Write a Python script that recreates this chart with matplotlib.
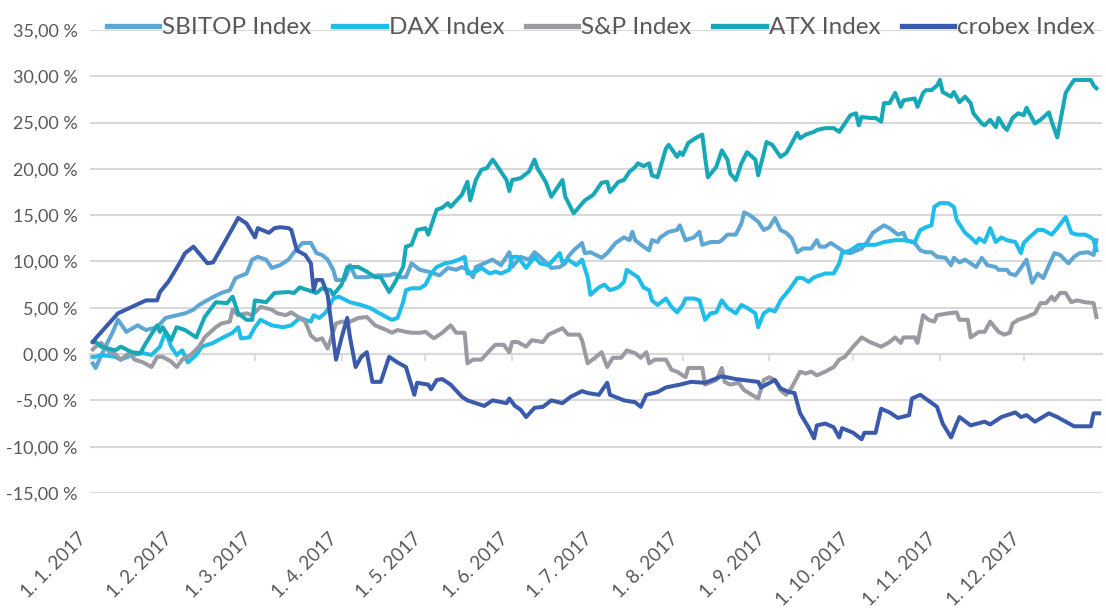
import matplotlib
matplotlib.use('Agg')
import matplotlib.pyplot as plt
from matplotlib.ticker import FuncFormatter
from matplotlib.transforms import ScaledTranslation
import pandas as pd

# (day of year, % change)
sbitop = [(1, -1.0), (2, -1.5), (5, 0.5), (8, 2.3), (10, 3.7), (13, 2.4), (17, 3.1), (20, 2.6), (24, 2.9),
          (27, 3.9), (34, 4.4), (37, 4.8), (39, 5.3), (43, 6.0), (47, 6.6), (50, 6.9), (52, 8.2), (56, 8.7),
          (58, 10.2), (60, 10.5), (63, 10.2), (65, 9.3), (68, 9.6), (71, 10.2), (73, 11.0), (76, 12.0),
          (79, 12.0), (81, 10.9), (83, 10.7), (85, 10.2), (87, 9.1), (88, 8.0), (91, 8.0), (92, 8.7), (93, 9.6),
          (95, 8.3), (99, 8.3), (103, 8.5), (107, 8.5), (109, 8.7), (111, 8.3), (113, 8.3), (115, 9.8), (118, 9.1),
          (121, 8.9), (125, 8.5), (128, 9.3), (131, 9.1), (133, 9.4), (135, 9.1), (137, 8.3), (138, 9.4),
          (141, 9.8), (144, 10.2), (147, 9.6), (150, 11.0), (151, 9.4), (154, 10.5), (157, 10.2), (159, 11.0),
          (161, 10.5), (165, 9.3), (168, 9.4), (170, 9.8), (171, 10.5), (173, 11.2), (176, 12.0), (177, 10.9),
          (179, 11.0), (183, 10.4), (185, 10.9), (188, 12.0), (191, 12.6), (193, 12.3), (194, 13.2), (195, 12.3),
          (198, 11.6), (200, 11.2), (201, 12.3), (203, 12.1), (204, 12.6), (207, 13.2), (210, 13.4), (211, 13.9),
          (213, 12.3), (216, 12.6), (218, 13.2), (219, 11.8), (222, 12.1), (225, 12.1), (226, 12.3), (228, 12.9),
          (231, 12.9), (233, 14.1), (234, 15.3), (236, 15.0), (239, 14.3), (241, 13.4), (243, 13.7), (245, 14.7),
          (247, 13.4), (249, 13.1), (251, 12.5), (253, 11.0), (255, 11.4), (258, 11.4), (260, 12.3), (261, 11.6),
          (263, 11.6), (265, 12.0), (267, 11.6), (270, 11.0), (272, 10.9), (276, 11.4), (278, 12.1), (280, 13.1),
          (283, 13.7), (284, 13.9), (286, 13.6), (289, 12.9), (291, 13.1), (292, 12.3), (295, 12.0), (297, 11.2),
          (299, 11.0), (301, 11.0), (303, 10.5), (306, 10.4), (308, 9.6), (309, 10.4), (311, 9.9), (313, 10.2),
          (315, 9.8), (317, 9.4), (319, 10.4), (321, 9.6), (324, 9.4), (325, 9.1), (328, 9.1), (329, 8.7),
          (331, 8.5), (333, 9.3), (335, 10.2), (337, 7.7), (339, 8.7), (341, 8.2), (343, 9.6), (345, 10.9),
          (347, 10.7), (350, 9.8), (352, 10.5), (354, 10.9), (357, 11.0), (359, 10.7), (360, 12.3)]

dax = [(1, -0.3), (2, -0.3), (4, -0.1), (9, -0.3), (11, -0.6), (15, -0.1), (19, 0.1), (22, -0.1), (25, 0.8),
       (27, 2.4), (29, 0.8), (31, -0.1), (33, 0.4), (35, -0.9), (38, -0.1), (40, 0.8), (44, 1.2), (47, 1.7),
       (51, 2.3), (53, 2.9), (54, 1.7), (57, 1.8), (59, 2.9), (61, 3.7), (65, 3.1), (69, 2.9), (72, 3.1),
       (75, 3.9), (79, 3.5), (80, 4.2), (82, 3.9), (84, 4.4), (85, 4.8), (87, 6.0), (89, 6.2), (93, 5.6),
       (97, 5.3), (100, 5.0), (103, 4.5), (106, 4.0), (108, 3.7), (110, 3.9), (112, 5.6), (113, 6.9),
       (115, 7.1), (118, 7.1), (120, 7.5), (122, 8.7), (124, 9.4), (127, 9.8), (129, 9.9), (132, 10.2), (134, 10.5),
       (135, 8.7), (138, 8.9), (140, 9.3), (143, 8.7), (145, 8.9), (147, 8.7), (150, 9.1), (151, 10.5),
       (153, 10.5), (156, 9.3), (159, 10.5), (161, 9.8), (164, 9.6), (168, 10.9), (169, 9.9), (171, 10.2),
       (174, 9.6), (176, 10.2), (178, 8.3), (179, 6.4), (182, 7.2), (184, 7.5), (186, 6.9), (189, 7.2),
       (191, 7.8), (192, 9.1), (194, 8.7), (196, 8.3), (198, 7.2), (200, 6.9), (201, 5.8), (203, 5.3),
       (206, 6.0), (208, 5.1), (210, 4.5), (212, 5.3), (213, 6.0), (216, 6.0), (218, 5.8), (220, 3.7),
       (222, 4.4), (224, 4.5), (226, 5.8), (228, 5.0), (231, 4.4), (233, 5.3), (235, 5.0), (238, 4.4),
       (239, 2.9), (241, 4.4), (243, 4.8), (245, 4.6), (247, 5.8), (250, 6.9), (253, 8.2), (255, 8.2),
       (257, 7.8), (259, 8.3), (261, 8.5), (263, 8.7), (266, 8.7), (268, 9.8), (269, 10.9), (272, 11.2),
       (275, 11.8), (281, 11.8), (284, 12.1), (288, 12.3), (291, 12.3), (295, 12.1), (297, 13.4), (299, 13.7),
       (301, 13.9), (302, 15.9), (304, 16.3), (307, 16.3), (309, 15.9), (310, 14.5), (313, 13.1), (315, 12.6),
       (317, 12.0), (318, 12.5), (320, 12.1), (322, 13.6), (324, 12.1), (326, 12.6), (328, 12.3), (331, 12.1),
       (333, 10.9), (334, 12.0), (336, 12.6), (339, 13.4), (341, 13.4), (344, 12.9), (346, 13.6), (349, 14.8),
       (351, 13.1), (353, 12.9), (356, 12.9), (358, 12.6), (359, 12.3), (360, 11.2)]

sp_days = [1, 2, 4, 7, 9, 11, 14, 16, 19, 22, 24, 26, 29, 31, 33, 36, 39, 41, 45, 47,
           50, 51, 53, 56, 58, 61, 65, 67, 70, 72, 75, 77, 79, 81, 83, 85, 88, 90, 93, 96,
           99, 100, 102, 106, 108, 110, 113, 115, 118, 120, 123, 126, 129, 131, 134, 135, 137, 140, 143, 145,
           148, 150, 151, 153, 156, 158, 162, 164, 169, 171, 175, 176, 178, 181, 183, 185, 187, 190, 192, 195,
           197, 199, 200, 202, 206, 208, 210, 213, 214, 219, 220, 224, 226, 227, 229, 232, 234, 239, 241, 243,
           245, 247, 249, 251, 254, 256, 258, 260, 263, 266, 268, 270, 273, 276, 279, 283, 286, 288, 290, 291,
           295, 296, 298, 300, 302, 303, 307, 310, 311, 314, 315, 318, 320, 322, 325, 327, 329, 330, 332, 335,
           338, 340, 342, 344, 345, 347, 349, 351, 353, 356, 359, 360]
sp_vals = [0.5, 0.8, 1.2, 0.2, 0.0, -0.6, 0.1, -0.6, -0.9, -1.4, -0.3, -0.3, -0.8, -1.4, -0.6, -0.1, 0.8, 1.8, 2.9, 3.3,
           3.5, 4.8, 4.2, 4.4, 4.2, 5.1, 4.8, 4.4, 4.2, 4.5, 3.9, 3.5, 2.0, 1.5, 1.7, 0.6, 3.3, 3.5, 3.5, 3.9,
           4.0, 3.7, 3.1, 2.6, 2.3, 2.6, 2.4, 2.3, 2.3, 2.4, 1.7, 2.3, 3.1, 2.3, 2.3, -1.0, -0.6, -0.6, 0.4, 1.0,
           1.0, 0.2, 1.3, 1.3, 0.8, 1.5, 1.3, 2.1, 2.8, 2.1, 2.1, 1.5, -1.0, -0.3, 0.2, -1.4, -0.4, -0.4, 0.4, 0.1,
           -0.4, 0.2, -1.0, -0.6, -0.6, -1.7, -1.9, -2.5, -1.5, -1.5, -3.3, -2.8, -1.5, -3.0, -3.3, -3.1, -3.9, -4.8, -2.8, -2.5,
           -2.8, -3.9, -4.4, -3.6, -1.9, -2.1, -1.9, -2.3, -1.9, -1.4, -0.6, -0.3, 0.8, 1.8, 1.3, 0.8, 1.3, 1.8, 1.2, 1.8,
           1.8, 1.2, 4.2, 3.7, 3.5, 4.2, 4.4, 4.5, 3.7, 3.7, 1.8, 2.4, 2.4, 3.5, 2.4, 2.1, 2.3, 3.3, 3.7, 4.0,
           4.4, 5.5, 5.5, 6.2, 5.8, 6.6, 6.6, 5.6, 5.8, 5.6, 5.5, 4.0]

atx = [(1, 1.3), (2, 1.3), (4, 0.8), (9, 0.4), (11, 0.8), (15, 0.2), (18, 0.1), (20, 1.2), (24, 3.1), (25, 2.4),
       (26, 2.9), (29, 1.5), (31, 2.9), (34, 2.6), (38, 1.8), (41, 4.0), (45, 5.6), (49, 5.5), (51, 6.2),
       (53, 4.4), (56, 3.7), (58, 3.7), (59, 5.8), (63, 5.6), (66, 6.6), (71, 6.7), (73, 6.6), (75, 7.2),
       (78, 6.9), (81, 6.6), (83, 7.1), (86, 6.9), (87, 6.4), (90, 7.5), (92, 9.4), (96, 9.4), (99, 8.9),
       (102, 8.3), (104, 8.3), (107, 6.7), (109, 7.7), (112, 9.4), (113, 11.6), (115, 11.8), (117, 13.4), (120, 13.6),
       (121, 12.9), (124, 15.6), (126, 15.8), (128, 16.3), (129, 15.9), (133, 17.2), (135, 18.6), (136, 16.6),
       (138, 18.8), (140, 19.9), (142, 20.1), (144, 21.0), (145, 20.6), (147, 19.7), (149, 18.8), (150, 17.6),
       (151, 18.8), (154, 19.0), (157, 19.7), (159, 21.0), (160, 20.1), (163, 18.6), (165, 17.0), (167, 17.9),
       (169, 18.8), (170, 17.0), (173, 15.2), (175, 15.9), (177, 16.6), (180, 17.2), (183, 18.5), (185, 18.6),
       (186, 17.5), (189, 18.6), (191, 18.8), (193, 19.7), (195, 20.2), (196, 20.6), (198, 20.3), (200, 20.6),
       (201, 19.3), (203, 19.1), (206, 22.2), (207, 22.6), (210, 21.3), (211, 21.8), (212, 21.5), (214, 22.8),
       (217, 23.4), (219, 23.7), (220, 21.3), (221, 19.1), (224, 20.2), (226, 22.0), (228, 21.0), (229, 19.5),
       (231, 18.8), (233, 20.6), (235, 21.8), (238, 21.0), (239, 19.3), (242, 22.9), (244, 22.6), (247, 21.3),
       (249, 21.7), (250, 22.2), (253, 23.9), (254, 23.3), (256, 23.7), (259, 24.0), (260, 24.2), (263, 24.4),
       (266, 24.4), (268, 24.0), (270, 24.9), (272, 25.8), (274, 26.0), (275, 24.7), (276, 25.6), (279, 25.5),
       (281, 25.5), (283, 25.1), (284, 27.1), (286, 27.1), (288, 28.2), (290, 26.7), (291, 27.4), (295, 27.6),
       (296, 26.7), (298, 28.2), (299, 28.5), (301, 28.5), (303, 29.0), (304, 29.6), (305, 28.3), (308, 27.8),
       (309, 28.3), (311, 27.2), (313, 27.8), (315, 27.1), (316, 26.0), (319, 24.9), (320, 24.7), (322, 25.3),
       (324, 24.5), (325, 25.5), (327, 24.5), (328, 24.2), (330, 25.5), (332, 26.0), (334, 25.8), (335, 26.6),
       (338, 24.9), (340, 25.3), (343, 26.1), (344, 25.1), (346, 23.4), (349, 28.2), (350, 28.7), (352, 29.6),
       (356, 29.6), (358, 29.6), (359, 29.0), (360, 28.7)]

crobex = [(1, 1.3), (2, 1.7), (10, 4.4), (15, 5.1), (20, 5.8), (24, 5.8), (25, 6.7), (28, 7.8), (32, 9.8),
          (34, 10.9), (37, 11.6), (42, 9.8), (44, 9.9), (48, 12.0), (53, 14.7), (56, 14.1), (59, 12.6),
          (60, 13.6), (64, 13.1), (66, 13.6), (68, 13.7), (71, 13.6), (72, 13.4), (74, 11.2), (77, 10.7),
          (79, 9.8), (80, 6.9), (81, 8.0), (83, 8.0), (85, 6.4), (86, 4.0), (88, -0.6), (90, 1.8), (92, 3.9),
          (93, 1.8), (95, -1.4), (97, -0.3), (99, 0.2), (101, -3.0), (104, -3.0), (107, -0.3), (110, -0.9),
          (113, -1.4), (116, -4.4), (117, -3.1),
          (121, -3.3), (122, -3.8), (124, -2.8), (126, -2.7), (129, -3.3), (133, -4.6), (135, -5.0),
          (141, -5.6), (144, -5.0), (149, -5.3), (150, -4.8), (152, -5.6), (154, -6.0), (156, -6.8),
          (159, -5.8), (162, -5.7), (165, -5.0), (169, -5.3), (172, -4.6), (176, -4.0), (178, -4.2),
          (182, -4.4), (185, -3.1), (186, -4.4), (191, -5.0), (195, -5.2), (197, -5.7), (199, -4.4),
          (203, -4.1), (206, -3.6), (211, -3.3), (215, -3.0), (220, -3.1), (226, -2.4), (231, -2.7),
          (239, -3.0), (240, -3.6), (245, -2.8), (247, -3.7), (250, -4.1), (252, -4.2), (254, -6.4),
          (257, -7.9), (259, -9.1), (260, -7.7), (263, -7.5), (266, -7.9), (268, -9.0), (269, -8.0),
          (273, -8.5), (276, -9.2), (277, -8.5), (281, -8.5), (283, -5.9), (286, -6.3), (289, -6.9),
          (293, -6.6), (294, -4.8), (297, -4.4), (303, -5.7), (305, -7.5), (308, -9.0), (310, -7.5),
          (311, -6.8), (315, -7.7), (320, -7.3), (322, -7.6), (326, -6.8), (331, -6.3), (333, -6.8),
          (335, -6.6), (338, -7.3), (343, -6.4), (346, -6.8), (352, -7.8), (358, -7.8), (359, -6.4), (361, -6.4)]

series_names = ['SBITOP Index', 'DAX Index', 'S&P Index', 'ATX Index', 'crobex Index']
series_colors = ['#5ea6d3', '#1fbde9', '#9a9aa2', '#17a8b7', '#3a5bab']

start = pd.Timestamp('2017-01-01')


def to_dates(days):
    return [start + pd.Timedelta(days=d) for d in days]


text_color = '#595959'
grid_color = '#d9d9d9'
plt.rcParams['font.family'] = ['Lato', 'DejaVu Sans']

fig = plt.figure(figsize=(11.06, 6.13), dpi=100)
ax = fig.add_axes([0.0814, 0.1958, 0.9150, 0.7553])

all_series = [
    list(zip(*sbitop)),
    list(zip(*dax)),
    (sp_days, sp_vals),
    list(zip(*atx)),
    list(zip(*crobex)),
]
for (days, vals), name, col in zip(all_series, series_names, series_colors):
    ax.plot(to_dates(days), vals, color=col, lw=2.9, label=name, solid_joinstyle='round')

ax.set_ylim(-15, 35)
ax.set_yticks(range(-15, 36, 5))
ax.set_xlim(start, pd.Timestamp('2017-12-29'))
ax.yaxis.set_major_formatter(FuncFormatter(lambda v, p: f'{v:.2f}'.replace('.', ',') + ' %'))
ax.grid(axis='y', color=grid_color, lw=1.5)
ax.set_axisbelow(True)
for s in ax.spines.values():
    s.set_visible(False)
ax.tick_params(axis='y', length=0, pad=9, labelsize=13, labelcolor=text_color)

month_ticks = pd.date_range('2017-01-01', '2017-12-01', freq='MS')
ax.set_xticks(month_ticks)
ax.set_xticklabels([f'1. {d.month}. 2017' for d in month_ticks])
ax.tick_params(axis='x', length=0, pad=31, labelsize=13.5, labelcolor=text_color)
for lab in ax.get_xticklabels():
    lab.set_rotation(45)
    lab.set_ha('right')
    lab.set_va('center')
    lab.set_rotation_mode('anchor')
    lab.set_transform(lab.get_transform() + ScaledTranslation(-5 / 72, 0, fig.dpi_scale_trans))

# horizontal axis line at 0 % with tick marks
zero_axis = ax.secondary_xaxis(15 / 50)
zero_axis.set_xticks(month_ticks)
zero_axis.tick_params(axis='x', length=5, width=1.2, color=grid_color, labelbottom=False)
zero_axis.spines['bottom'].set_color(grid_color)
zero_axis.spines['bottom'].set_linewidth(1.5)

leg = ax.legend(loc='center', bbox_to_anchor=(0.505, 1.005), ncol=5, frameon=False,
                fontsize=17.5, handlelength=2.15, handletextpad=0.12, columnspacing=0.9,
                borderaxespad=0, borderpad=0)
for t in leg.get_texts():
    t.set_color(text_color)
for h in leg.get_lines():
    h.set_linewidth(3.8)

fig.savefig('out.png', dpi=100)
